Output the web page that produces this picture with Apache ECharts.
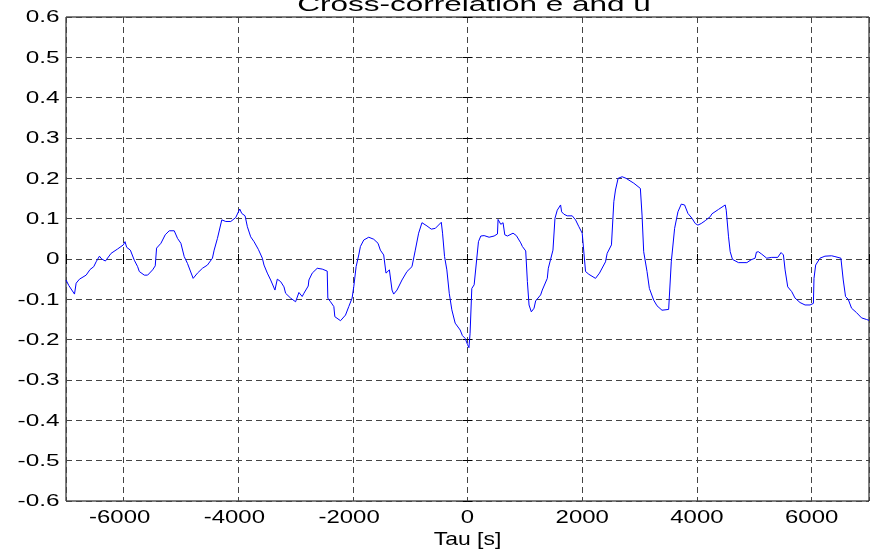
<!DOCTYPE html>
<html>
<head>
<meta charset="utf-8">
<script src="https://cdn.jsdelivr.net/npm/echarts@6/dist/echarts.min.js"></script>
<style>
html,body{margin:0;padding:0;background:#fff;}
#chart{width:870px;height:553px;}
</style>
</head>
<body>
<div id="chart"></div>
<script>
const titleText = 'Cross-correlation e and u';
const xAxisName = 'Tau [s]';
const xTickValues = [-6000, -4000, -2000, 0, 2000, 4000, 6000];
const yTickValues = [-0.6, -0.5, -0.4, -0.3, -0.2, -0.1, 0, 0.1, 0.2, 0.3, 0.4, 0.5, 0.6];

const tau = [
  -7000, -6950, -6852, -6823, -6765, -6649, -6580, -6516, -6475, -6417,
  -6377, -6313, -6214, -6099, -6000, -5971, -5942, -5878, -5809, -5751,
  -5722, -5635, -5577, -5490, -5444, -5421, -5345, -5270, -5200, -5113,
  -5055, -4997, -4939, -4882, -4783, -4708, -4621, -4534, -4447, -4417,
  -4360, -4284, -4214, -4127, -4040, -3971, -3936, -3878, -3838, -3780,
  -3722, -3647, -3577, -3548, -3490, -3432, -3403, -3357, -3316, -3258,
  -3200, -3171, -3084, -2997, -2968, -2939, -2882, -2852, -2777, -2765,
  -2707, -2620, -2533, -2446, -2435, -2388, -2330, -2313, -2214, -2127,
  -2070, -2012, -1983, -1942, -1896, -1867, -1809, -1722, -1635, -1560,
  -1519, -1461, -1421, -1362, -1316, -1287, -1229, -1142, -1055, -968,
  -910, -852, -794, -765, -707, -631, -561, -457, -435, -400,
  -360, -318, -273, -215, -128, -88, -40, 0, 25, 45,
  75, 116, 191, 232, 290, 377, 464, 522, 533, 580,
  620, 650, 696, 794, 852, 928, 957, 1015, 1044, 1073,
  1113, 1160, 1188, 1275, 1304, 1391, 1409, 1490, 1525, 1565,
  1623, 1641, 1681, 1739, 1826, 1884, 1942, 2000, 2029, 2058,
  2116, 2232, 2301, 2406, 2435, 2510, 2551, 2580, 2626, 2696,
  2765, 2899, 3014, 3043, 3072, 3130, 3171, 3246, 3304, 3391,
  3507, 3553, 3611, 3669, 3727, 3785, 3843, 3913, 3971, 4017,
  4075, 4145, 4232, 4262, 4377, 4493, 4511, 4551, 4580, 4620,
  4725, 4870, 4944, 5014, 5037, 5072, 5130, 5217, 5304, 5409,
  5467, 5508, 5537, 5583, 5653, 5711, 5798, 5885, 5972, 6031,
  6041, 6070, 6145, 6232, 6348, 6406, 6510, 6551, 6591, 6638,
  6696, 6783, 6870, 6957, 7000
];

const corr = [
  -0.052, -0.066, -0.087, -0.060, -0.050, -0.040, -0.026, -0.019, -0.007, 0.007,
  0.000, -0.005, 0.014, 0.025, 0.035, 0.043, 0.029, 0.022, -0.003, -0.019,
  -0.031, -0.040, -0.040, -0.027, -0.017, 0.027, 0.039, 0.060, 0.070, 0.070,
  0.051, 0.039, 0.006, -0.011, -0.048, -0.035, -0.023, -0.015, 0.002, 0.022,
  0.051, 0.097, 0.093, 0.093, 0.103, 0.124, 0.113, 0.107, 0.080, 0.055,
  0.043, 0.024, 0.002, -0.015, -0.035, -0.052, -0.050, -0.077, -0.050, -0.056,
  -0.069, -0.085, -0.097, -0.106, -0.102, -0.083, -0.093, -0.085, -0.067, -0.052,
  -0.035, -0.023, -0.025, -0.030, -0.097, -0.106, -0.118, -0.143, -0.153, -0.139,
  -0.118, -0.097, -0.069, -0.019, 0.010, 0.031, 0.047, 0.054, 0.049, 0.039,
  0.022, 0.010, -0.035, -0.027, -0.077, -0.087, -0.077, -0.052, -0.031, -0.019,
  0.022, 0.064, 0.090, 0.093, 0.082, 0.074, 0.076, 0.091, 0.064, 0.006,
  -0.027, -0.085, -0.126, -0.159, -0.176, -0.190, -0.197, -0.212, -0.220, -0.184,
  -0.073, -0.064, 0.043, 0.057, 0.058, 0.054, 0.057, 0.062, 0.098, 0.086,
  0.090, 0.060, 0.057, 0.064, 0.058, 0.040, 0.031, 0.020, -0.056, -0.114,
  -0.131, -0.122, -0.104, -0.089, -0.077, -0.048, -0.023, 0.022, 0.101, 0.121,
  0.134, 0.117, 0.111, 0.107, 0.107, 0.097, 0.080, 0.064, 0.060, -0.031,
  -0.038, -0.048, -0.035, -0.007, 0.014, 0.035, 0.142, 0.171, 0.200, 0.204,
  0.200, 0.188, 0.175, 0.109, 0.018, -0.031, -0.073, -0.102, -0.116, -0.127,
  -0.125, -0.007, 0.076, 0.117, 0.136, 0.134, 0.113, 0.101, 0.088, 0.084,
  0.088, 0.095, 0.105, 0.112, 0.123, 0.134, 0.121, 0.055, 0.018, -0.001,
  -0.009, -0.009, -0.002, 0.002, 0.017, 0.018, 0.012, 0.002, 0.004, 0.004,
  0.016, 0.010, -0.027, -0.069, -0.081, -0.097, -0.108, -0.114, -0.114, -0.110,
  -0.048, -0.015, 0.002, 0.007, 0.008, 0.006, 0.002, -0.052, -0.093, -0.100,
  -0.122, -0.133, -0.146, -0.150, -0.152
];

const chart = echarts.init(document.getElementById('chart'), null, {renderer: 'canvas'});
const FONT = '"Liberation Sans", Arial, sans-serif';
const gridStyle = {color: '#444', width: 1, type: [6, 4]};

const option = {
  animation: false,
  backgroundColor: '#fff',
  grid: {left: 66, top: 17, width: 803, height: 484, show: true, borderColor: '#000', borderWidth: 1, backgroundColor: '#fff'},
  xAxis: [
    {type: 'value', min: -7000, max: 7000, splitNumber: 7, position: 'bottom',
     axisLine: {show: false}, axisTick: {show: true, inside: true, length: 5, lineStyle: {color: '#000'}},
     axisLabel: {show: false}, splitLine: {show: true, lineStyle: gridStyle}},
    {type: 'value', min: -7000, max: 7000, splitNumber: 7, position: 'top',
     axisLine: {show: false}, axisTick: {show: true, inside: true, length: 5, lineStyle: {color: '#000'}},
     axisLabel: {show: false}, splitLine: {show: false}}
  ],
  yAxis: [
    {type: 'value', min: -0.6, max: 0.6, interval: 0.1, position: 'left',
     axisLine: {show: false}, axisTick: {show: true, inside: true, length: 5, lineStyle: {color: '#000'}},
     axisLabel: {show: false}, splitLine: {show: true, lineStyle: gridStyle}},
    {type: 'value', min: -0.6, max: 0.6, interval: 0.1, position: 'right',
     axisLine: {show: false}, axisTick: {show: true, inside: true, length: 5, lineStyle: {color: '#000'}},
     axisLabel: {show: false}, splitLine: {show: false}}
  ],
  series: [{
    type: 'line',
    xAxisIndex: 0, yAxisIndex: 0,
    data: tau.map((t, i) => [t, corr[i]]),
    showSymbol: false,
    symbol: 'none',
    lineStyle: {color: '#0000ff', width: 1},
    clip: true
  }]
};
chart.setOption(option);

function txt(text, x, y, size, sx, align) {
  return {
    type: 'text', x: x, y: y, scaleX: sx, scaleY: 1, originX: 0, originY: 0, silent: true, z: 100,
    style: {text: text, fontSize: size, fontFamily: FONT, fill: '#000',
            align: align, verticalAlign: 'middle', textAlign: align, textVerticalAlign: 'middle'}
  };
}

const graphics = [];
xTickValues.forEach(v => {
  const p = chart.convertToPixel({gridIndex: 0}, [v, 0]);
  const label = String(v);
  graphics.push(txt(label, p[0] - (v < 0 ? 3.7 : 0), 518.5, 18, 1.33, 'center'));
});
yTickValues.forEach(v => {
  const p = chart.convertToPixel({gridIndex: 0}, [0, v]);
  const label = Math.abs(v) < 1e-9 ? '0' : v.toFixed(1);
  graphics.push(txt(label, 59.5, p[1] + 1, 16, 1.52, 'right'));
});
const mid = chart.convertToPixel({gridIndex: 0}, [0, 0]);
graphics.push(txt(xAxisName, mid[0], 540, 18.5, 1.24, 'center'));
graphics.push(txt(titleText, 474, 5.2, 21, 1.5, 'center'));
chart.setOption({graphic: graphics});
</script>
</body>
</html>
